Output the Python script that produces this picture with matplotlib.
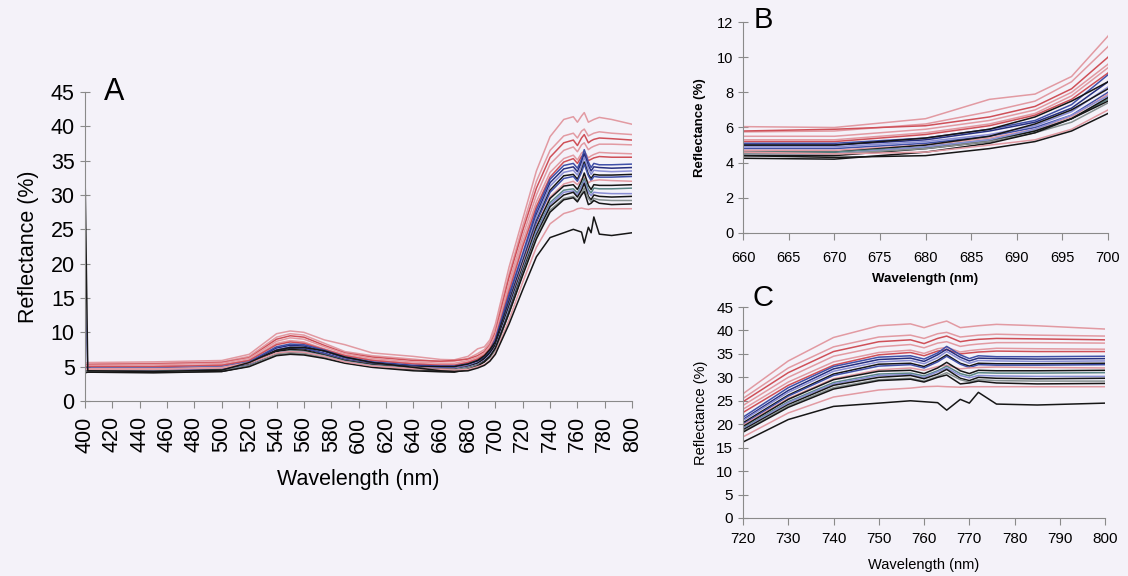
import matplotlib.pyplot as plt

plt.rcParams['font.family'] = ['Liberation Sans', 'DejaVu Sans']

wavelength = [400, 402, 450, 500, 520, 540, 550, 560, 575, 590, 610, 640,
              660, 670, 680, 687, 692, 696, 700, 710, 720, 730, 740, 750,
              757, 760, 763, 765, 768, 770, 772, 776, 785, 800]

# reflectance (%) of each leaf spectrum
pink_1 = [5.5, 5.6, 5.7, 5.9, 6.8, 9.8, 10.2, 10.0, 8.9, 8.2, 7.0, 6.5,
          6.05, 6.0, 6.5, 7.6, 7.9, 8.9, 11.2, 19.5, 26.5, 33.5, 38.5, 41.0,
          41.4, 40.6, 41.5, 42.0, 40.6, 40.8, 41.0, 41.3, 41.0, 40.3]
pink_2 = [5.3, 5.4, 5.5, 5.7, 6.5, 9.3, 9.8, 9.6, 8.4, 7.2, 6.6, 6.1,
          5.75, 5.8, 6.2, 6.9, 7.5, 8.6, 10.6, 18.5, 25.5, 32.0, 36.5, 38.6,
          39.0, 38.3, 39.3, 39.6, 38.6, 38.8, 39.0, 39.2, 39.0, 38.8]
red_3 = [5.2, 5.3, 5.4, 5.6, 6.3, 9.0, 9.5, 9.3, 8.1, 7.0, 6.4, 5.9,
         5.8, 5.9, 6.1, 6.6, 7.2, 8.2, 10.0, 18.0, 24.8, 31.0, 35.5, 37.6,
         38.0, 37.2, 38.3, 38.8, 37.6, 37.9, 38.1, 38.3, 38.2, 38.0]
pink_4 = [5.1, 5.2, 5.3, 5.5, 6.2, 8.7, 9.2, 9.0, 7.9, 6.9, 6.2, 5.7,
          5.5, 5.5, 5.9, 6.4, 7.0, 8.0, 9.6, 17.2, 24.0, 30.0, 34.5, 36.5,
          37.0, 36.3, 37.3, 37.6, 36.6, 36.9, 37.1, 37.4, 37.4, 37.3]
pink_5 = [5.0, 5.1, 5.1, 5.3, 6.0, 8.4, 8.8, 8.6, 7.6, 6.7, 6.0, 5.5,
          5.3, 5.3, 5.7, 6.2, 6.8, 7.8, 9.4, 16.6, 23.2, 29.0, 33.3, 35.3,
          35.8, 35.1, 36.1, 36.4, 35.4, 35.7, 35.9, 36.2, 36.1, 36.0]
red_6 = [5.0, 5.0, 5.0, 5.2, 5.9, 8.2, 8.6, 8.4, 7.5, 6.6, 5.9, 5.4,
         5.2, 5.2, 5.6, 6.1, 6.7, 7.6, 9.1, 16.0, 22.5, 28.3, 32.6, 34.8,
         35.3, 34.6, 35.6, 35.9, 35.0, 35.2, 35.4, 35.6, 35.5, 35.5]
blue_7 = [4.8, 4.8, 4.8, 5.0, 5.7, 7.9, 8.3, 8.2, 7.4, 6.4, 5.7, 5.2,
          5.1, 5.1, 5.4, 5.9, 6.4, 7.3, 9.0, 15.5, 21.5, 27.8, 32.3, 34.3,
          34.6, 33.9, 35.2, 36.6, 34.8, 34.0, 34.6, 34.4, 34.4, 34.5]
navy_8 = [4.6, 4.7, 4.6, 4.8, 5.5, 7.7, 8.1, 8.0, 7.2, 6.2, 5.6, 5.1,
          5.0, 5.0, 5.3, 5.8, 6.3, 7.1, 8.6, 15.0, 21.0, 27.2, 31.8, 33.8,
          34.1, 33.4, 34.8, 36.0, 34.3, 33.5, 34.1, 34.0, 33.9, 34.0]
lblue_9 = [15.0, 4.6, 4.5, 4.7, 5.4, 7.5, 7.9, 7.8, 7.0, 6.1, 5.5, 5.0,
           4.9, 4.9, 5.2, 5.6, 6.1, 6.9, 8.3, 14.6, 20.8, 26.8, 31.3, 33.3,
           33.6, 32.9, 34.2, 35.5, 33.8, 33.0, 33.6, 33.5, 33.4, 33.5]
black_10 = [4.4, 4.5, 4.4, 4.6, 5.4, 7.3, 7.7, 7.6, 6.9, 6.0, 5.4, 5.0,
            5.0, 5.0, 5.4, 5.9, 6.6, 7.5, 8.6, 14.5, 20.3, 26.2, 30.7, 32.8,
            33.0, 32.3, 33.6, 34.8, 33.0, 32.4, 33.0, 32.9, 32.9, 33.0]
blue_11 = [4.5, 4.5, 4.5, 4.7, 5.4, 7.4, 7.8, 7.7, 6.9, 6.0, 5.4, 4.9,
           4.8, 4.8, 5.1, 5.5, 6.0, 6.7, 8.0, 14.2, 20.0, 26.0, 30.4, 32.4,
           32.7, 32.0, 33.3, 34.5, 32.8, 32.1, 32.7, 32.6, 32.6, 32.7]
pink_12 = [4.6, 4.7, 4.7, 4.9, 5.6, 7.1, 7.4, 7.3, 6.7, 5.9, 5.3, 4.9,
           4.7, 4.7, 5.0, 5.4, 5.9, 6.6, 7.9, 13.8, 19.8, 25.5, 29.7, 31.6,
           32.0, 31.5, 32.3, 32.6, 31.8, 32.0, 32.1, 32.2, 32.1, 32.0]
black_13 = [4.3, 4.4, 4.3, 4.5, 5.3, 7.2, 7.5, 7.4, 6.7, 5.9, 5.3, 4.8,
            4.6, 4.6, 5.0, 5.5, 6.2, 7.0, 8.2, 13.8, 19.5, 25.3, 29.5, 31.3,
            31.5, 30.8, 32.0, 33.2, 31.4, 30.8, 31.5, 31.4, 31.4, 31.5]
teal_14 = [4.3, 4.3, 4.3, 4.5, 5.2, 7.0, 7.3, 7.2, 6.6, 5.8, 5.2, 4.8,
           4.6, 4.6, 4.9, 5.3, 5.8, 6.5, 7.6, 13.4, 19.2, 24.8, 28.9, 30.7,
           30.9, 30.3, 31.4, 32.4, 30.8, 30.3, 31.0, 30.9, 30.9, 31.0]
lblue_15 = [4.2, 4.3, 4.2, 4.4, 5.2, 7.0, 7.2, 7.1, 6.5, 5.7, 5.1, 4.7,
            4.5, 4.5, 4.9, 5.3, 5.9, 6.7, 7.8, 13.3, 19.0, 24.6, 28.6, 30.4,
            30.6, 30.0, 31.2, 32.0, 30.4, 29.9, 30.4, 30.3, 30.2, 30.2]
black_16 = [4.2, 4.2, 4.2, 4.3, 5.1, 6.8, 7.0, 6.9, 6.3, 5.6, 5.0, 4.6,
            4.4, 4.4, 4.8, 5.2, 5.8, 6.5, 7.5, 13.0, 18.8, 24.2, 28.3, 30.0,
            30.4, 29.7, 30.7, 31.7, 29.8, 29.3, 30.0, 29.8, 29.7, 29.8]
grey_17 = [4.3, 4.3, 4.3, 4.4, 5.1, 6.8, 7.0, 6.9, 6.3, 5.6, 5.0, 4.7,
           4.5, 4.5, 4.8, 5.2, 5.7, 6.3, 7.4, 12.8, 18.5, 23.9, 27.8, 29.5,
           29.8, 29.2, 30.2, 31.0, 29.5, 29.0, 29.5, 29.3, 29.2, 29.2]
black_18 = [4.1, 4.2, 4.1, 4.3, 5.0, 6.6, 6.8, 6.7, 6.2, 5.5, 4.9, 4.4,
            4.25, 4.2, 4.6, 5.1, 5.7, 6.5, 7.7, 12.8, 18.3, 23.6, 27.5, 29.3,
            29.6, 29.0, 30.0, 30.5, 28.6, 28.8, 29.2, 28.8, 28.6, 28.7]
pink_19 = [4.6, 4.6, 4.6, 4.8, 5.5, 7.0, 7.2, 7.1, 6.5, 5.7, 5.1, 4.7,
           4.6, 4.5, 4.6, 5.0, 5.3, 5.9, 7.0, 11.8, 17.3, 22.4, 25.8, 27.3,
           27.7, 28.0, 28.1, 28.0, 27.9, 28.0, 28.0, 28.0, 28.0, 28.0]
black_20 = [33.0, 4.4, 4.3, 4.5, 5.6, 7.4, 7.8, 7.8, 7.3, 6.4, 5.6, 4.9,
            4.4, 4.3, 4.4, 4.8, 5.2, 5.8, 6.8, 11.2, 16.2, 21.0, 23.8, 24.5,
            25.0, 24.8, 24.6, 23.0, 25.3, 24.5, 26.8, 24.3, 24.1, 24.5]

PINK = '#e29aa2'
RED = '#cf5058'
BLUE = '#4050a8'
NAVY = '#262f80'
LBLUE = '#8a8ed4'
BLACK = '#161616'
TEAL = '#5a8686'
GREY = '#86908f'

spectra = [
    (pink_1, PINK), (pink_2, PINK), (red_3, RED), (pink_4, PINK),
    (pink_5, PINK), (red_6, RED), (blue_7, BLUE), (navy_8, NAVY),
    (lblue_9, LBLUE), (black_10, BLACK), (blue_11, BLUE), (pink_12, PINK),
    (black_13, BLACK), (teal_14, TEAL), (lblue_15, LBLUE), (black_16, BLACK),
    (grey_17, GREY), (black_18, BLACK), (pink_19, PINK), (black_20, BLACK),
]

BG = '#f4f2f9'
AXIS = '#8a8a8a'

fig = plt.figure(figsize=(11.28, 5.76), dpi=100)
fig.patch.set_facecolor(BG)

ax_a = fig.add_axes([0.0754, 0.3038, 0.485, 0.5365])
ax_b = fig.add_axes([0.6587, 0.5955, 0.3236, 0.3663])
ax_c = fig.add_axes([0.6587, 0.1007, 0.321, 0.3663])

for ax in (ax_a, ax_b, ax_c):
    ax.set_facecolor(BG)
    for vals, col in spectra:
        ax.plot(wavelength, vals, color=col, lw=1.1)
    ax.spines['top'].set_visible(False)
    ax.spines['right'].set_visible(False)
    ax.spines['left'].set_color(AXIS)
    ax.spines['bottom'].set_color(AXIS)
    ax.tick_params(axis='y', direction='inout', length=7, color=AXIS)
    ax.tick_params(axis='x', direction='out', length=5, color=AXIS)

# panel A: full spectrum
ax_a.set_xlim(400, 800)
ax_a.set_ylim(0, 45)
ax_a.set_xticks(range(400, 801, 20))
ax_a.set_yticks(range(0, 46, 5))
ax_a.tick_params(axis='x', labelsize=15.5, labelrotation=90, pad=6)
ax_a.tick_params(axis='y', labelsize=15.5, pad=4)
ax_a.set_xlabel('Wavelength (nm)', fontsize=15.5, labelpad=12)
ax_a.set_ylabel('Reflectance (%)', fontsize=15.5, labelpad=8)
ax_a.text(0.035, 1.0, 'A', transform=ax_a.transAxes, fontsize=22,
          ha='left', va='center')

# panel B: red trough
ax_b.set_xlim(660, 700)
ax_b.set_ylim(0, 12)
ax_b.set_xticks(range(660, 701, 5))
ax_b.set_yticks(range(0, 13, 2))
ax_b.tick_params(labelsize=10.5)
ax_b.tick_params(axis='x', pad=8)
ax_b.set_xlabel('Wavelength (nm)', fontsize=9.5, fontweight='bold', labelpad=6)
ax_b.set_ylabel('Reflectance (%)', fontsize=9.5, fontweight='bold', labelpad=8)
ax_b.text(0.028, 1.01, 'B', transform=ax_b.transAxes, fontsize=21,
          ha='left', va='center')

# panel C: NIR plateau
ax_c.set_xlim(720, 800)
ax_c.set_ylim(0, 45)
ax_c.set_xticks(range(720, 801, 10))
ax_c.set_yticks(range(0, 46, 5))
ax_c.tick_params(labelsize=11)
ax_c.tick_params(axis='x', pad=5)
ax_c.set_xlabel('Wavelength (nm)', fontsize=10.5, labelpad=9)
ax_c.set_ylabel('Reflectance (%)', fontsize=10.5, labelpad=6)
ax_c.text(0.025, 1.045, 'C', transform=ax_c.transAxes, fontsize=21,
          ha='left', va='center')

fig.savefig('out.png', dpi=100, facecolor=BG)
